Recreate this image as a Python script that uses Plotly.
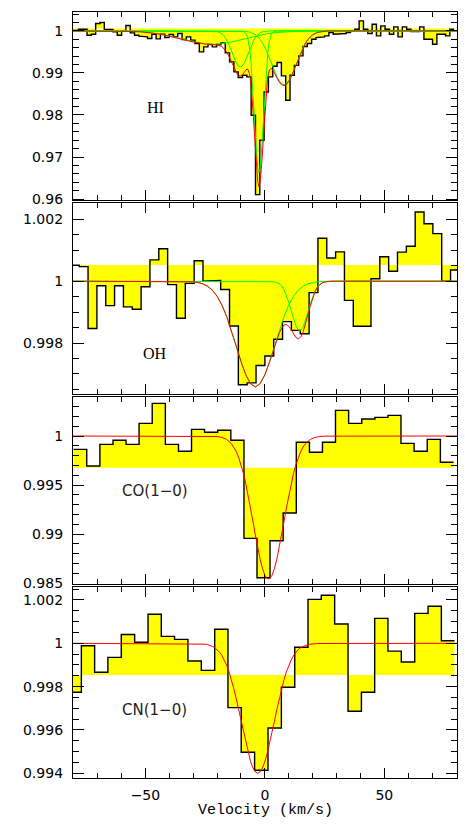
import numpy as np
import plotly.graph_objects as go

# ======================= data =======================
# ---- HI panel: channel velocities (km/s) and normalised flux ----
hi_vel = [-80.75, -78.95, -77.14, -75.33, -73.52, -71.72, -69.91, -68.10, -66.29, -64.49, -62.68,
          -60.87, -59.06, -57.26, -55.45, -53.64, -51.83, -50.03, -48.22, -46.41, -44.60, -42.80,
          -40.99, -39.18, -37.37, -35.57, -33.76, -31.95, -30.14, -28.34, -26.53, -24.72, -22.91,
          -21.11, -19.30, -17.49, -15.68, -13.88, -12.07, -10.26, -8.45, -6.65, -4.84, -3.03, -1.22,
          0.58, 2.39, 4.20, 6.01, 7.82, 9.62, 11.43, 13.24, 15.05, 16.85, 18.66, 20.47, 22.28, 24.08,
          25.89, 27.70, 29.51, 31.31, 33.12, 34.93, 36.74, 38.54, 40.35, 42.16, 43.97, 45.77, 47.58,
          49.39, 51.20, 53.00, 54.81, 56.62, 58.43, 60.23, 62.04, 63.85, 65.66, 67.46, 69.27, 71.08,
          72.89, 74.69, 76.50, 78.31]
hi_flux = [1.00010, 1.00010, 1.00040, 1.00040, 0.99898, 0.99921, 1.00175, 1.00199, 1.00033, 1.00033,
           0.99977, 0.99898, 1.00000, 1.00128, 0.99953, 0.99898, 0.99874, 0.99858, 0.99818, 0.99921,
           0.99810, 0.99921, 0.99842, 0.99913, 0.99858, 0.99937, 0.99794, 0.99858, 0.99780, 0.99699,
           0.99501, 0.99620, 0.99675, 0.99620, 0.99675, 0.99715, 0.99477, 0.99263, 0.99025, 0.98890,
           0.98945, 0.98906, 0.97993, 0.96104, 0.97398, 0.98548, 0.98906, 0.99160, 0.99250, 0.98930,
           0.98350, 0.98945, 0.99180, 0.99405, 0.99628, 0.99699, 0.99802, 0.99842, 0.99858, 0.99882,
           0.99961, 0.99921, 0.99921, 0.99937, 0.99961, 1.00000, 1.00040, 1.00239, 1.00040, 0.99937,
           1.00160, 0.99882, 1.00120, 1.00040, 0.99921, 1.00096, 0.99858, 1.00096, 1.00040, 0.99985,
           0.99985, 1.00096, 0.99802, 0.99802, 0.99683, 0.99921, 0.99921, 0.99882, 1.00040]
hi_base = 1.00055
# HI fit: total model (red) and the four components (green)
hi_fit_vel = [-80.3, -74, -70, -67, -64, -61, -58, -55, -52, -49, -46, -43, -40, -37, -34, -31, -28,
              -25, -22, -20, -18, -16, -15, -14.5, -14, -13.5, -13, -12.5, -12, -11.5, -11, -10.5,
              -10, -9.5, -9, -8.5, -8, -7.5, -7, -6.5, -6, -5.5, -5, -4.5, -4, -3.5, -3, -2.5, -2,
              -1.5, -1, -0.5, 0, 0.5, 1, 1.5, 2, 2.5, 3, 3.5, 4, 5, 6, 7, 8, 9, 10, 11, 12, 13, 14,
              15, 16, 17, 18, 19, 20, 22, 24, 26, 28, 30, 80.4]
hi_fit = [1.0, 1.0, 1.0, 0.99999, 0.99998, 0.99996, 0.99993, 0.99987, 0.99978, 0.99963, 0.99942,
          0.99913, 0.99877, 0.99836, 0.99791, 0.99748, 0.99712, 0.99688, 0.99678, 0.99669, 0.99629,
          0.99501, 0.99392, 0.99328, 0.99259, 0.99189, 0.99120, 0.99057, 0.99002, 0.98960, 0.98933,
          0.98922, 0.98930, 0.98954, 0.98991, 0.99034, 0.99074, 0.99095, 0.99075, 0.98989, 0.98812,
          0.98527, 0.98134, 0.97662, 0.97166, 0.96722, 0.96412, 0.96298, 0.96402, 0.96702, 0.97139,
          0.97632, 0.98105, 0.98502, 0.98795, 0.98982, 0.99079, 0.99108, 0.99092, 0.99050, 0.98995,
          0.98878, 0.98780, 0.98717, 0.98698, 0.98725, 0.98796, 0.98903, 0.99037, 0.99185, 0.99335,
          0.99477, 0.99603, 0.99710, 0.99796, 0.99861, 0.99909, 0.99965, 0.99988, 0.99997, 0.99999,
          1.0, 1.0]
hi_c1_vel = [-80.3, -74.0, -67.5, -61.0, -57.75, -54.5, -51.25, -48.0, -44.75, -41.5, -38.25, -35.0,
             -31.75, -28.5, -25.25, -22.0, -18.75, -15.5, -12.25, -9.0, -5.75, -2.5, 0.75, 4.0, 7.25,
             10.5, 13.75, 17.0, 23.5, 30.0, 80.4]
hi_c1 = [1.0, 0.999999, 0.999993, 0.999964, 0.999927, 0.999859, 0.999745, 0.999567, 0.999308,
         0.998961, 0.998535, 0.998059, 0.997585, 0.997176, 0.996898, 0.9968, 0.996898, 0.997176,
         0.997585, 0.998059, 0.998535, 0.998961, 0.999308, 0.999567, 0.999745, 0.999859, 0.999927,
         0.999964, 0.999993, 0.999999, 1.0]
hi_c2_vel = [-80.3, -23.9, -22.2, -20.5, -19.65, -18.8, -17.95, -17.1, -16.25, -15.4, -14.55, -13.7,
             -12.85, -12.0, -11.15, -10.3, -9.45, -8.6, -7.75, -6.9, -6.05, -5.2, -4.35, -3.5, -2.65,
             -1.8, -0.95, -0.1, 1.6, 3.3, 80.4]
hi_c2 = [1.0, 0.999997, 0.999981, 0.999905, 0.999804, 0.999622, 0.999316, 0.998836, 0.99814,
         0.997208, 0.996063, 0.994784, 0.993508, 0.99241, 0.991665, 0.9914, 0.991665, 0.99241,
         0.993508, 0.994784, 0.996063, 0.997208, 0.99814, 0.998836, 0.999316, 0.999622, 0.999804,
         0.999905, 0.999981, 0.999997, 1.0]
hi_c3_vel = [-80.3, -10.1, -9.15, -8.2, -7.725, -7.25, -6.775, -6.3, -5.825, -5.35, -4.875, -4.4,
             -3.925, -3.45, -2.975, -2.5, -2.025, -1.55, -1.075, -0.6, -0.125, 0.35, 0.825, 1.3,
             1.775, 2.25, 2.725, 3.2, 4.15, 5.1, 80.4]
hi_c3 = [1.0, 0.999989, 0.999926, 0.999626, 0.999232, 0.998519, 0.997319, 0.995439, 0.992712,
         0.989059, 0.984571, 0.97956, 0.974562, 0.97026, 0.967337, 0.9663, 0.967337, 0.97026,
         0.974562, 0.97956, 0.984571, 0.989059, 0.992712, 0.995439, 0.997319, 0.998519, 0.999232,
         0.999626, 0.999926, 0.999989, 1.0]
hi_c4_vel = [-80.3, -12.8, -10.2, -7.6, -6.3, -5.0, -3.7, -2.4, -1.1, 0.2, 1.5, 2.8, 4.1, 5.4, 6.7,
             8.0, 9.3, 10.6, 11.9, 13.2, 14.5, 15.8, 17.1, 18.4, 19.7, 21.0, 22.3, 23.6, 26.2, 28.8,
             80.4]
hi_c4 = [1.0, 0.999996, 0.999972, 0.999858, 0.999708, 0.999438, 0.998982, 0.998268, 0.997232,
         0.995844, 0.99414, 0.992236, 0.990338, 0.988704, 0.987594, 0.9872, 0.987594, 0.988704,
         0.990338, 0.992236, 0.99414, 0.995844, 0.997232, 0.998268, 0.998982, 0.999438, 0.999708,
         0.999858, 0.999972, 0.999996, 1.0]

# ---- OH panel ----
oh_vel = [-79.55, -75.85, -72.15, -68.45, -64.75, -61.05, -57.35, -53.65, -49.95, -46.25, -42.55,
          -38.85, -35.15, -31.45, -27.75, -24.05, -20.35, -16.65, -12.95, -9.25, -5.55, -1.85, 1.85,
          5.55, 9.25, 12.95, 16.65, 20.35, 24.05, 27.75, 31.45, 35.15, 38.85, 42.55, 46.25, 49.95,
          53.65, 57.35, 61.05, 64.75, 68.45, 72.15, 75.85, 79.55]
oh_flux = [1.00052, 1.00047, 0.99847, 0.99985, 0.99921, 0.99985, 0.99917, 0.99909, 0.99982, 1.00069,
           1.00105, 0.99989, 0.99880, 0.99993, 1.00066, 1.00000, 1.00002, 0.99973, 0.99855, 0.99665,
           0.99671, 0.99727, 0.99758, 0.99812, 0.99869, 0.99841, 0.99830, 0.99963, 1.00139, 1.00075,
           1.00095, 0.99938, 0.99854, 0.99854, 1.00008, 1.00079, 1.00032, 1.00094, 1.00113, 1.00224,
           1.00186, 1.00154, 1.00000, 1.00036]
oh_base = 1.00052
oh_fit_vel = [-80.3, -36, -34, -32, -30, -28, -26, -24, -22, -20, -18, -16, -14, -12, -10, -8, -6, -4,
              -2, 0, 2, 4, 6, 7, 8, 9, 10, 11, 12, 13, 14, 15, 16, 17, 18, 19, 20, 21, 22, 23, 24, 26,
              28, 30, 80.4]
oh_fit = [1.0, 1.0, 0.999996, 0.999991, 0.99998, 0.999958, 0.999914, 0.999838, 0.99971, 0.999514,
          0.999232, 0.998858, 0.998404, 0.9979, 0.997401, 0.996973, 0.996683, 0.99658, 0.996683,
          0.996973, 0.997398, 0.997882, 0.99832, 0.99848, 0.998577, 0.998599, 0.998543, 0.99843,
          0.998292, 0.998177, 0.998133, 0.998192, 0.998358, 0.99861, 0.998905, 0.9992, 0.999458,
          0.999659, 0.9998, 0.999891, 0.999944, 0.999987, 0.999997, 1.0, 1.0]
oh_c1_vel = [-80.3, -36, -34, -32, -30, -28, -26, -24, -22, -20, -18, -16, -14, -12, -10, -8, -6, -4,
             -2, 0, 2, 4, 6, 8, 10, 12, 14, 16, 18, 20, 22, 24, 26, 28, 80.4]
oh_c1 = [1.0, 1.0, 0.999996, 0.999991, 0.99998, 0.999958, 0.999914, 0.999838, 0.99971, 0.999514,
         0.999232, 0.998858, 0.998404, 0.9979, 0.997401, 0.996973, 0.996683, 0.99658, 0.996683,
         0.996973, 0.997401, 0.9979, 0.998404, 0.998858, 0.999232, 0.999514, 0.99971, 0.999838,
         0.999914, 0.999958, 0.99998, 0.999991, 0.999996, 1.0, 1.0]
oh_c2_vel = [-80.3, 2, 4, 6, 7, 8, 9, 10, 11, 12, 13, 14, 15, 16, 17, 18, 19, 20, 21, 22, 23, 24, 26,
             28, 80.4]
oh_c2 = [1.0, 0.999997, 0.999982, 0.999916, 0.99984, 0.999719, 0.999542, 0.999312, 0.999046,
         0.998778, 0.998555, 0.998423, 0.99841, 0.99852, 0.998729, 0.998991, 0.999261, 0.9995,
         0.999688, 0.99982, 0.999904, 0.999953, 0.999991, 0.999999, 1.0]

# ---- CO(1-0) panel ----
co_vel = [-77.3, -71.8, -66.3, -60.8, -55.4, -49.9, -44.4, -38.9, -33.4, -28.0, -22.5, -17.0, -11.5,
          -6.0, -0.6, 4.9, 10.4, 15.9, 21.4, 26.8, 32.3, 37.8, 43.3, 48.8, 54.2, 59.7, 65.2, 70.7, 76.2]
co_flux = [0.99864, 0.99694, 0.99915, 0.99956, 0.99915, 1.00129, 1.00333, 0.99915, 0.99844, 1.00068,
           1.00038, 1.00058, 0.99956, 0.98956, 0.98554, 0.98932, 0.99214, 0.99936, 0.99834, 0.99936,
           1.00262, 1.00129, 1.00173, 1.00190, 1.00211, 0.99925, 0.99844, 0.99966, 0.99732]
co_base = 0.99677
co_fit_vel = [-80.3, -22, -20, -18, -16, -14, -13, -12, -11, -10, -9, -8, -7, -6, -5, -4, -3, -2, -1,
              0, 1, 2, 3, 4, 5, 6, 7, 8, 9, 10, 11, 12, 13, 14, 15, 16, 17, 19, 21, 23, 25, 80.4]
co_fit = [1.0, 0.999983, 0.999948, 0.999859, 0.999652, 0.999223, 0.998879, 0.99842, 0.99783,
          0.997096, 0.9962, 0.995145, 0.993956, 0.992653, 0.991284, 0.989908, 0.988597, 0.987428,
          0.986473, 0.985796, 0.985445, 0.985445, 0.985796, 0.986473, 0.987428, 0.988597, 0.989908,
          0.991284, 0.992653, 0.993956, 0.995145, 0.9962, 0.997096, 0.99783, 0.99842, 0.998879,
          0.999223, 0.999652, 0.999859, 0.999948, 0.999983, 1.0]

# ---- CN(1-0) panel ----
cn_vel = [-79.6, -74.0, -68.5, -62.9, -57.3, -51.7, -46.1, -40.6, -35.0, -29.4, -23.8, -18.2, -12.7,
          -7.1, -1.5, 4.1, 9.7, 15.3, 20.8, 26.4, 32.0, 37.6, 43.2, 48.7, 54.3, 59.9, 65.5, 71.1, 76.6]
cn_flux = [0.99774, 0.99989, 0.99866, 0.99935, 1.00041, 1.00005, 1.00134, 1.00032, 1.00018, 0.99918,
           0.99875, 1.00065, 0.99703, 0.99497, 0.99414, 0.99609, 0.99797, 0.99982, 1.00203, 1.00222,
           1.00089, 0.99686, 0.99774, 1.00115, 0.99964, 0.99914, 1.00138, 1.00171, 1.00012]
cn_base = 0.99854
cn_fit_vel = [-80.3, -28, -27, -26, -25, -24, -23, -22, -21, -20, -19, -18, -17, -16, -15, -14, -13,
              -12, -11, -10, -9, -8, -7, -6, -5, -4, -3, -2, -1, 0, 1, 2, 3, 4, 5, 6, 7, 8, 9, 10,
              11, 12, 13, 14, 15, 16, 17, 18, 19, 20, 21, 22, 80.4]
cn_fit = [1.0, 0.99999, 0.99999, 0.99998, 0.99996, 0.99994, 0.99991, 0.99986, 0.9998, 0.99971,
          0.99959, 0.99944, 0.99923, 0.99898, 0.99868, 0.99832, 0.9979, 0.99744, 0.99694, 0.99641,
          0.99589, 0.99539, 0.99493, 0.99454, 0.99425, 0.99406, 0.994, 0.99406, 0.99425, 0.99454,
          0.99493, 0.99539, 0.99589, 0.99641, 0.99694, 0.99744, 0.9979, 0.99832, 0.99868, 0.99898,
          0.99923, 0.99944, 0.99959, 0.99971, 0.9998, 0.99986, 0.99991, 0.99994, 0.99996, 0.99998,
          0.99999, 0.99999, 1.0]

panel_labels = ["HI", "OH", "CO(1\u22120)", "CN(1\u22120)"]
x_title = "Velocity (km/s)"

# ======================= figure =======================
fig = go.Figure()
XR = [-80.3, 80.4]


def steps(centers, values):
    c = np.asarray(centers, float)
    v = np.asarray(values, float)
    mids = (c[1:] + c[:-1]) / 2
    edges = np.concatenate([[c[0] - (c[1] - c[0]) / 2], mids, [c[-1] + (c[-1] - c[-2]) / 2]])
    x = np.repeat(edges, 2)[1:-1]
    y = np.repeat(v, 2)
    return x, y, edges


panels = [
    (hi_vel, hi_flux, hi_base, [(hi_c1_vel, hi_c1), (hi_c2_vel, hi_c2), (hi_c3_vel, hi_c3),
                                (hi_c4_vel, hi_c4)], (hi_fit_vel, hi_fit)),
    (oh_vel, oh_flux, oh_base, [(oh_c1_vel, oh_c1), (oh_c2_vel, oh_c2)], (oh_fit_vel, oh_fit)),
    (co_vel, co_flux, co_base, [], (co_fit_vel, co_fit)),
    (cn_vel, cn_flux, cn_base, [], (cn_fit_vel, cn_fit)),
]
for p, (vel, flux, base, greens, red) in enumerate(panels, start=1):
    xa = "x" if p == 1 else f"x{p}"
    ya = "y" if p == 1 else f"y{p}"
    sx, sy, edges = steps(vel, flux)
    fig.add_trace(go.Scatter(x=[edges[0], edges[-1]], y=[base, base], mode="lines",
                             line=dict(width=0, color="rgba(0,0,0,0)"), xaxis=xa, yaxis=ya,
                             hoverinfo="skip", showlegend=False))
    fig.add_trace(go.Scatter(x=sx, y=sy, mode="lines", fill="tonexty", fillcolor="#ffff00",
                             line=dict(color="black", width=1.4), xaxis=xa, yaxis=ya,
                             showlegend=False))
    for gv, gf in greens:
        fig.add_trace(go.Scatter(x=gv, y=gf, mode="lines", line=dict(color="#00ff00", width=1),
                                 xaxis=xa, yaxis=ya, showlegend=False))
    fig.add_trace(go.Scatter(x=red[0], y=red[1], mode="lines", line=dict(color="#ff0000", width=1),
                             xaxis=xa, yaxis=ya, showlegend=False))

H = 766.0


def dom(top_px, bot_px):
    return [1 - (bot_px - 12) / H, 1 - (top_px - 12) / H]


ycfg = [
    (dom(12, 200.3), [0.9597, 1.0045], 0.01, 0.002),
    (dom(203, 394.3), [0.99634, 1.00253], 0.002, 0.0005),
    (dom(397, 584), [0.98490, 1.00398], 0.005, 0.001),
    (dom(587, 778), [0.99378, 1.0026], 0.002, 0.0005),
]
tickfont = dict(family="DejaVu Sans", size=14, color="black")
layout = dict(width=465, height=826, margin=dict(l=73, r=8, t=12, b=48),
              paper_bgcolor="white", plot_bgcolor="white", showlegend=False)
for p, (d, rng, dt, mdt) in enumerate(ycfg, start=1):
    yk = "yaxis" if p == 1 else f"yaxis{p}"
    xk = "xaxis" if p == 1 else f"xaxis{p}"
    xa = "x" if p == 1 else f"x{p}"
    ya = "y" if p == 1 else f"y{p}"
    layout[yk] = dict(domain=d, range=rng, tick0=1, dtick=dt, anchor=xa, showline=True,
                      linecolor="black", linewidth=1.3, mirror="ticks", ticks="inside", ticklen=11,
                      tickwidth=1.2, tickcolor="black", showgrid=False, zeroline=False,
                      tickfont=tickfont, ticklabelstandoff=6,
                      minor=dict(tick0=1, dtick=mdt, ticks="inside", ticklen=6, tickwidth=1,
                                 tickcolor="black", showgrid=False))
    layout[xk] = dict(domain=[0, 1], range=XR, anchor=ya, tick0=0, dtick=50, showline=True,
                      linecolor="black", linewidth=1.3, mirror="ticks", ticks="inside", ticklen=10,
                      tickwidth=1.2, tickcolor="black", showgrid=False, zeroline=False,
                      tickfont=tickfont, showticklabels=(p == 4), ticklabelstandoff=4,
                      minor=dict(tick0=0, dtick=10, ticks="inside", ticklen=5, tickwidth=1,
                                 tickcolor="black", showgrid=False))
    if p != 1:
        layout[xk]["matches"] = "x"
fig.update_layout(**layout)

ann = [
    dict(text=panel_labels[0], x=-45.8, y=0.98171, xref="x", yref="y",
         font=dict(family="Liberation Serif", size=16, color="black")),
    dict(text=panel_labels[1], x=-45.8, y=0.99767, xref="x2", yref="y2",
         font=dict(family="Liberation Serif", size=16, color="black")),
    dict(text=panel_labels[2], x=-46.0, y=0.99434, xref="x3", yref="y3",
         font=dict(family="DejaVu Sans", size=15, color="#222")),
    dict(text=panel_labels[3], x=-46.0, y=0.99692, xref="x4", yref="y4",
         font=dict(family="DejaVu Sans", size=15, color="#222")),
    dict(text=x_title, x=0.5, y=-32 / H, xref="paper", yref="paper", yanchor="middle",
         font=dict(family="Liberation Mono", size=15, color="black")),
]
for a in ann:
    a["showarrow"] = False
fig.update_layout(annotations=ann)

fig.write_html("out.html")
